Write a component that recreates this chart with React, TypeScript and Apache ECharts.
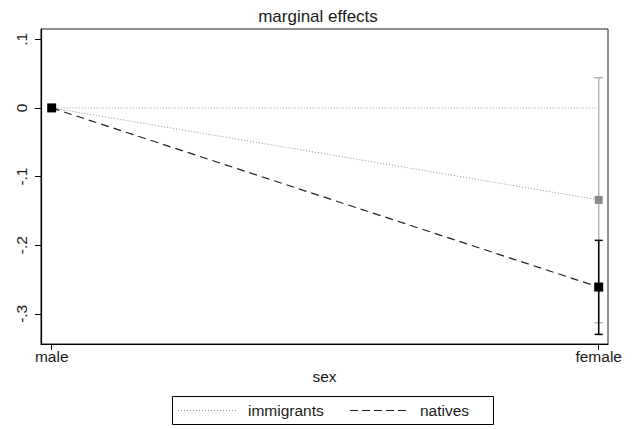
import React, { useEffect, useRef } from "react";
import * as echarts from "echarts";

// Categories of the predictor and the marginal effects per group
const categories = ["male", "female"];
const immigrants = [0, -0.134];
const natives = [0, -0.261];
// 95% confidence bounds (the base category has none)
const immigrantsLower = [null, -0.313];
const immigrantsUpper = [null, 0.044];
const nativesLower = [null, -0.33];
const nativesUpper = [null, -0.193];
const yTicks = [-0.3, -0.2, -0.1, 0, 0.1];
const zeroLine = [0, 0];

const FONT = "Liberation Sans, Arial, Helvetica, sans-serif";

function fmtTick(v: number): string {
  const r = Math.round(v * 10) / 10;
  if (r === 0) return "0";
  return String(r).replace("0.", ".");
}

function ciData(lower: (number | null)[], upper: (number | null)[]) {
  const out: number[][] = [];
  lower.forEach((lo, i) => {
    const hi = upper[i];
    if (lo !== null && hi !== null) out.push([i, lo, hi]);
  });
  return out;
}

function ciRenderer(color: string, capHalf: number, width: number) {
  return (_params: any, api: any) => {
    const x = api.value(0);
    const lo = api.coord([x, api.value(1)]);
    const hi = api.coord([x, api.value(2)]);
    const style = { stroke: color, lineWidth: width };
    return {
      type: "group",
      children: [
        { type: "line", shape: { x1: lo[0], y1: lo[1], x2: hi[0], y2: hi[1] }, style },
        { type: "line", shape: { x1: lo[0] - capHalf, y1: lo[1], x2: lo[0] + capHalf, y2: lo[1] }, style },
        { type: "line", shape: { x1: hi[0] - capHalf, y1: hi[1], x2: hi[0] + capHalf, y2: hi[1] }, style },
      ],
    };
  };
}

export default function App() {
  const ref = useRef<HTMLDivElement>(null);

  useEffect(() => {
    if (!ref.current) return;
    const chart = echarts.init(ref.current, null, { renderer: "svg" });
    const xs = categories.map((_, i) => i);

    chart.setOption({
      animation: false,
      backgroundColor: "#ffffff",
      textStyle: { fontFamily: FONT },
      title: {
        text: "marginal effects",
        left: "center",
        top: 3,
        textStyle: { fontFamily: FONT, fontSize: 17, fontWeight: "normal", color: "#1a1a1a" },
      },
      grid: {
        left: 41,
        right: 28,
        top: 29,
        bottom: 85,
        show: true,
        borderColor: "#222",
        borderWidth: 1,
      },
      xAxis: {
        type: "value",
        min: -0.0196,
        max: 1.017,
        name: "sex",
        nameLocation: "middle",
        nameGap: 18,
        nameTextStyle: { fontFamily: FONT, fontSize: 15.5, color: "#1a1a1a" },
        splitLine: { show: false },
        axisLine: { show: true, onZero: false, lineStyle: { color: "#000", width: 1.2 } },
        axisTick: { show: true, length: 6, customValues: xs, lineStyle: { color: "#000" } },
        axisLabel: {
          customValues: xs,
          margin: 4,
          fontFamily: FONT,
          fontSize: 15.5,
          color: "#1a1a1a",
          formatter: (v: number) => categories[Math.round(v)] ?? "",
        },
      },
      yAxis: {
        type: "value",
        min: -0.344,
        max: 0.115,
        splitLine: { show: false },
        axisLine: { show: true, onZero: false, lineStyle: { color: "#000", width: 1.2 } },
        axisTick: { show: true, length: 6, customValues: yTicks, lineStyle: { color: "#000" } },
        axisLabel: {
          customValues: yTicks,
          rotate: 90,
          margin: 12,
          fontFamily: FONT,
          fontSize: 15.5,
          color: "#1a1a1a",
          formatter: fmtTick,
        },
      },
      series: [
        {
          name: "zero",
          type: "line",
          data: xs.map((x, i) => [x, zeroLine[i]]),
          symbol: "none",
          lineStyle: { color: "#999999", width: 1, type: [1, 2] },
          z: 1,
        },
        {
          name: "immigrants CI",
          type: "custom",
          data: ciData(immigrantsLower, immigrantsUpper),
          renderItem: ciRenderer("#b4b4b4", 4.5, 1.5),
          z: 2,
        },
        {
          name: "natives CI",
          type: "custom",
          data: ciData(nativesLower, nativesUpper),
          renderItem: ciRenderer("#000000", 4, 1.5),
          z: 3,
        },
        {
          name: "immigrants",
          type: "line",
          data: xs.map((x, i) => [x, immigrants[i]]),
          symbol: "rect",
          symbolSize: 8,
          itemStyle: { color: "#8a8a8a" },
          lineStyle: { color: "#8f8f8f", width: 1, type: [1, 2] },
          z: 4,
        },
        {
          name: "natives",
          type: "line",
          data: xs.map((x, i) => [x, natives[i]]),
          symbol: "rect",
          symbolSize: 9,
          itemStyle: { color: "#000000" },
          lineStyle: { color: "#222222", width: 1.2, type: [8, 5] },
          z: 5,
        },
      ],
      graphic: [
        {
          type: "rect",
          shape: { x: 172.5, y: 396.5, width: 321, height: 28 },
          style: { fill: "#ffffff", stroke: "#000000", lineWidth: 1 },
        },
        {
          type: "line",
          shape: { x1: 178, y1: 410.5, x2: 238, y2: 410.5 },
          style: { stroke: "#8f8f8f", lineWidth: 1, lineDash: [1, 2] },
        },
        {
          type: "text",
          x: 248,
          y: 410.5,
          style: {
            text: "immigrants",
            font: `15.5px ${FONT}`,
            fill: "#1a1a1a",
            textVerticalAlign: "middle",
            verticalAlign: "middle",
          },
        },
        {
          type: "line",
          shape: { x1: 350, y1: 410.5, x2: 408, y2: 410.5 },
          style: { stroke: "#222222", lineWidth: 1.2, lineDash: [8, 4] },
        },
        {
          type: "text",
          x: 420,
          y: 410.5,
          style: {
            text: "natives",
            font: `15.5px ${FONT}`,
            fill: "#1a1a1a",
            textVerticalAlign: "middle",
            verticalAlign: "middle",
          },
        },
      ],
    });

    return () => chart.dispose();
  }, []);

  return (
    <div
      ref={ref}
      style={{ position: "fixed", left: 0, top: 0, width: 636, height: 429, background: "#fff" }}
    />
  );
}
